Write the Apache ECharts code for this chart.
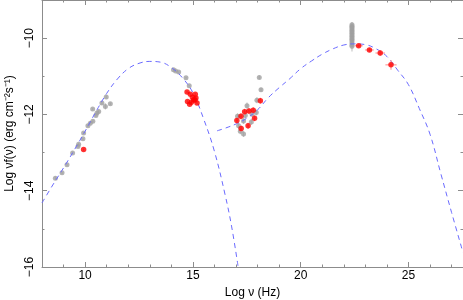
<!DOCTYPE html>
<html><head><meta charset="utf-8">
<script src="https://cdn.jsdelivr.net/npm/echarts@6/dist/echarts.min.js"></script>
<style>html,body{margin:0;padding:0;background:#fff}#c{width:463px;height:300px}</style>
</head><body><div id="c"></div>
<script>
// ---- data ----
const xMajorTicks = [10, 15, 20, 25];
const xMinorTicks = [9, 11, 12, 13, 14, 16, 17, 18, 19, 21, 22, 23, 24, 26, 27];
const yMajorTicks = [-16, -14, -12, -10];
const yMinorTicks = [-15, -13, -11];

// model curves [log nu, log nuFnu]
const syncModel = [[8.0,-14.32],[8.5,-13.85],[9.0,-13.40],[9.5,-12.93],[10.0,-12.44],[10.5,-11.93],[11.0,-11.45],[11.5,-11.07],[12.0,-10.80],[12.5,-10.66],[13.0,-10.61],[13.5,-10.63],[14.0,-10.77],[14.5,-11.03],[15.0,-11.43],[15.5,-12.12],[16.0,-12.97],[16.5,-14.12],[16.8,-14.95],[17.1,-16.0]];
const icModel = [[16.12,-12.43],[16.5,-12.36],[17.0,-12.25],[17.5,-12.10],[18.0,-11.88],[18.5,-11.56],[19.0,-11.30],[19.5,-11.06],[20.0,-10.80],[20.5,-10.60],[21.0,-10.42],[21.5,-10.28],[22.0,-10.18],[22.5,-10.15],[23.0,-10.17],[23.5,-10.28],[24.0,-10.48],[24.5,-10.84],[25.0,-11.22],[25.5,-11.84],[26.0,-12.52],[26.5,-13.55],[27.0,-14.57],[27.53,-15.62]];

// archival points [log nu, log nuFnu, x err, y err]
const radioGray = [[8.62,-13.67,0,0.04],[8.93,-13.53,0,0.03],[9.16,-13.32,0,0.03],[9.42,-13.01,0,0.03],[9.67,-12.84,0,0.04],[9.70,-12.78,0,0.03],[9.90,-12.64,0,0.03],[9.93,-12.49,0,0.03],[10.13,-12.30,0,0.03],[10.24,-12.23,0,0.03],[10.36,-12.18,0,0.03],[10.50,-12.03,0,0.03],[10.55,-11.96,0,0.03],[10.35,-11.86,0,0.03],[10.63,-11.92,0,0.05],[10.78,-11.70,0,0.04],[10.94,-11.79,0,0.08],[10.98,-11.54,0,0.04],[11.17,-11.72,0,0.03]];
const opticalGray = [[14.10,-10.83,0,0.02],[14.20,-10.86,0,0.02],[14.34,-10.89,0,0.02],[14.68,-11.04,0,0.02],[14.83,-11.25,0,0.02]];
const xrayGray = [[17.07,-12.05,0,0.08],[17.12,-12.30,0,0.08],[17.20,-12.44,0,0.08],[17.35,-12.51,0,0.08],[17.35,-12.17,0,0.08],[17.43,-12.03,0,0.08],[17.51,-11.77,0,0.08],[17.71,-12.20,0,0.08],[17.74,-11.99,0,0.08],[17.94,-11.95,0,0.08],[17.97,-11.63,0,0.08],[18.08,-11.03,0,0.05],[18.16,-11.35,0,0.05]];
const gammaGray = [[22.38,-9.65,0,0.07],[22.38,-9.69,0,0.07],[22.38,-9.72,0,0.07],[22.38,-9.76,0,0.07],[22.38,-9.80,0,0.07],[22.38,-9.83,0,0.07],[22.38,-9.87,0,0.07],[22.38,-9.91,0,0.07],[22.38,-9.95,0,0.07],[22.38,-9.99,0,0.07],[22.38,-10.03,0,0.08],[22.38,-10.07,0,0.08],[22.38,-10.12,0,0.1],[22.38,-10.17,0,0.12],[22.38,-10.21,0,0.14]];

// simultaneous points [log nu, log nuFnu, x err, y err]
const radioRed = [[9.93,-12.92,0,0.03]];
const opticalRed = [[14.73,-11.41,0,0.03],[14.88,-11.47,0,0.03],[15.11,-11.47,0,0.03],[14.98,-11.55,0,0.03],[15.14,-11.57,0,0.03],[15.03,-11.62,0,0.03],[14.75,-11.66,0,0.03],[14.93,-11.68,0,0.03],[15.19,-11.70,0,0.03],[14.85,-11.73,0,0.03],[15.10,-11.62,0,0.03]];
const xrayRed = [[17.04,-12.16,0.05,0.08],[17.24,-12.37,0.05,0.08],[17.23,-12.05,0.05,0.08],[17.40,-11.93,0.05,0.08],[17.56,-12.30,0.05,0.08],[17.60,-11.91,0.05,0.08],[17.80,-11.89,0.05,0.08],[17.86,-12.10,0.05,0.08],[18.13,-11.64,0.05,0.08]];
const gammaRed = [[22.69,-10.20,0.19,0.04],[23.19,-10.31,0.20,0.05],[23.69,-10.39,0.22,0.07],[24.19,-10.70,0.26,0.13]];

// ---- chart ----
const X_MIN = 8, X_MAX = 27.53, Y_MIN = -16, Y_MAX = -9;
const AXIS_COLOR = '#8c8c8c';
const FONT = 'Liberation Sans, Arial, sans-serif';
const grayPts = [].concat(radioGray, opticalGray, xrayGray, gammaGray);
const redPts = [].concat(radioRed, opticalRed, xrayRed, gammaRed);

function xAx(pos, ticks, len, line, labels) {
  return {
    type: 'value', position: pos, min: X_MIN, max: X_MAX, gridIndex: 0,
    axisLine: {show: line, onZero: false, lineStyle: {color: AXIS_COLOR, width: 1}},
    axisTick: {show: true, inside: true, length: len, customValues: ticks, lineStyle: {color: AXIS_COLOR}},
    axisLabel: {show: labels, customValues: ticks, margin: 3, color: '#000', fontSize: 12, fontFamily: FONT},
    splitLine: {show: false},
    name: labels ? 'Log ν (Hz)' : '', nameLocation: 'middle', nameGap: 18,
    nameTextStyle: {color: '#000', fontSize: 12, fontFamily: FONT}
  };
}
function yAx(pos, ticks, len, line, labels) {
  return {
    type: 'value', position: pos, min: Y_MIN, max: Y_MAX, gridIndex: 0,
    axisLine: {show: line, onZero: false, lineStyle: {color: AXIS_COLOR, width: 1}},
    axisTick: {show: true, inside: true, length: len, customValues: ticks, lineStyle: {color: AXIS_COLOR}},
    axisLabel: {show: labels, customValues: ticks, rotate: 90, margin: 6, color: '#000', fontSize: 12, fontFamily: FONT,
      formatter: v => (v < 0 ? '\u2212' : '') + Math.abs(v)},
    splitLine: {show: false},
    name: labels ? 'Log \u03bdf(\u03bd) (erg cm\u207b\u00b2s\u207b\u00b9)' : '', nameLocation: 'middle', nameGap: 26, nameRotate: 90,
    nameTextStyle: {color: '#000', fontSize: 12, fontFamily: FONT}
  };
}

function errRender(color) {
  return function (params, api) {
    const x = api.value(0), y = api.value(1), ex = api.value(2), ey = api.value(3);
    const ch = [];
    if (ey > 0) {
      const a = api.coord([x, y - ey]), b = api.coord([x, y + ey]);
      ch.push({type: 'line', shape: {x1: a[0], y1: a[1], x2: b[0], y2: b[1]}, style: {stroke: color, lineWidth: 1.2}});
    }
    if (ex > 0) {
      const a = api.coord([x - ex, y]), b = api.coord([x + ex, y]);
      ch.push({type: 'line', shape: {x1: a[0], y1: a[1], x2: b[0], y2: b[1]}, style: {stroke: color, lineWidth: 1.2}});
    }
    return {type: 'group', children: ch};
  };
}

const chart = echarts.init(document.getElementById('c'), null, {renderer: 'canvas'});
chart.setOption({
  animation: false,
  backgroundColor: '#fff',
  grid: {left: 42, right: 0, top: 0, bottom: 33, containLabel: false, outerBoundsMode: 'none'},
  xAxis: [
    xAx('bottom', xMajorTicks, 5, true, true),
    xAx('bottom', xMinorTicks, 2.5, false, false),
    xAx('top', xMajorTicks, 5, true, false),
    xAx('top', xMinorTicks, 2.5, false, false)
  ],
  yAxis: [
    yAx('left', yMajorTicks, 5, true, true),
    yAx('left', yMinorTicks, 2.5, false, false),
    yAx('right', yMajorTicks, 5, true, false),
    yAx('right', yMinorTicks, 2.5, false, false)
  ],
  series: [
    {type: 'custom', renderItem: errRender('#c8c8c8'), data: grayPts, clip: true, z: 1},
    {type: 'scatter', data: grayPts, symbol: 'circle', symbolSize: 5, itemStyle: {color: '#a0a0a0'}, z: 2},
    {type: 'line', data: syncModel, smooth: 0.4, showSymbol: false, clip: true,
      lineStyle: {color: '#6a6aff', width: 1, type: [5, 4]}, z: 3},
    {type: 'line', data: icModel, smooth: 0.4, showSymbol: false, clip: true,
      lineStyle: {color: '#6a6aff', width: 1, type: [5, 4]}, z: 3},
    {type: 'custom', renderItem: errRender('#ff9a9a'), data: redPts, clip: true, z: 4},
    {type: 'scatter', data: redPts, symbol: 'circle', symbolSize: 5.5, itemStyle: {color: '#ff0000'}, z: 5}
  ]
});
</script>
</body></html>
